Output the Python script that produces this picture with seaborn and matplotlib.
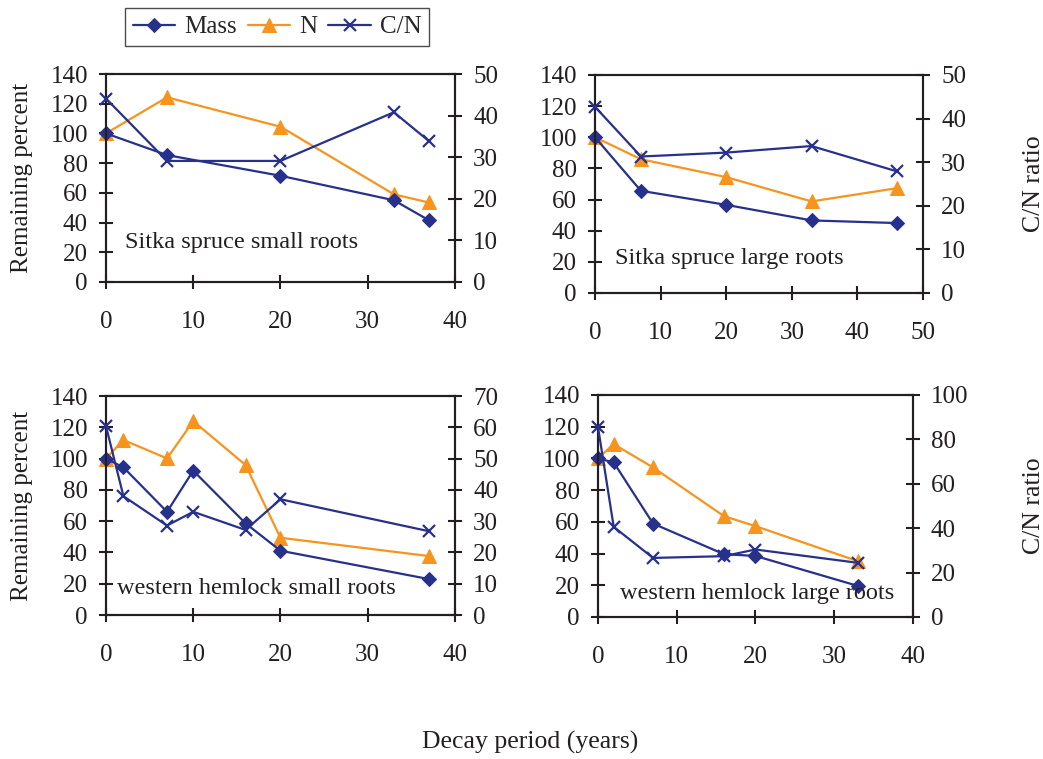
import numpy as np
import matplotlib
matplotlib.use('Agg')
import matplotlib.pyplot as plt
import seaborn as sns

# ---------- data ----------
# Sitka spruce small roots
ss_small_years = [0, 7, 20, 33, 37]
ss_small_mass = [100, 85.4, 71.5, 55, 41.6]
ss_small_n = [100, 124.3, 104.5, 59, 53.5]
ss_small_cn = [44.1, 29.1, 29.1, 40.8, 33.9]

# Sitka spruce large roots
ss_large_years = [0, 7, 20, 33, 46]
ss_large_mass = [100, 65.6, 56.6, 46.6, 44.9]
ss_large_n = [100, 85.9, 74.4, 58.8, 67.3]
ss_large_cn = [42.7, 31.3, 32.2, 33.7, 27.9]

# western hemlock small roots
wh_small_years = [0, 2, 7, 10, 16, 20, 37]
wh_small_mass = [100, 94.4, 66, 92.3, 58.6, 41.1, 23.0]
wh_small_n = [100, 111.9, 100.1, 124, 95.9, 49.4, 37.7]
wh_small_cn = [60.4, 38.0, 28.6, 33.0, 27.2, 37.0, 26.8]

# western hemlock large roots
wh_large_years = [0, 2, 7, 16, 20, 33]
wh_large_mass = [100, 97.5, 58.9, 39.6, 38.5, 19.6]
wh_large_n = [100, 109, 94.3, 63.6, 57.3, 35.2]
wh_large_cn = [85.7, 40.6, 26.6, 27.4, 30.4, 24.4]

panel_titles = ['Sitka spruce small roots', 'Sitka spruce large roots',
                'western hemlock small roots', 'western hemlock large roots']
series_labels = ['Mass', 'N', 'C/N']

# ---------- style ----------
sns.set_style('ticks')
plt.rcParams['font.family'] = ['Liberation Serif', 'DejaVu Serif']
plt.rcParams['font.size'] = 18

navy = '#27318B'
orange = '#F7941E'
ink = '#231F20'

fig = plt.figure(figsize=(10.43, 7.59), dpi=100)

panels = [
    dict(pos=[0.1016, 0.6285, 0.3346, 0.2740], x=ss_small_years, mass=ss_small_mass,
         n=ss_small_n, cn=ss_small_cn, xmax=40, cnmax=50, cnstep=10, txt=(0.054, 0.19)),
    dict(pos=[0.5705, 0.6140, 0.3145, 0.2872], x=ss_large_years, mass=ss_large_mass,
         n=ss_large_n, cn=ss_large_cn, xmax=50, cnmax=50, cnstep=10, txt=(0.061, 0.16)),
    dict(pos=[0.1016, 0.1897, 0.3346, 0.2885], x=wh_small_years, mass=wh_small_mass,
         n=wh_small_n, cn=wh_small_cn, xmax=40, cnmax=70, cnstep=10, txt=(0.032, 0.12)),
    dict(pos=[0.5733, 0.1871, 0.3020, 0.2925], x=wh_large_years, mass=wh_large_mass,
         n=wh_large_n, cn=wh_large_cn, xmax=40, cnmax=100, cnstep=20, txt=(0.07, 0.108)),
]

handles = []
for i, p in enumerate(panels):
    ax = fig.add_axes(p['pos'])
    ax2 = ax.twinx()

    sns.lineplot(x=p['x'], y=p['mass'], ax=ax, color=navy, marker='D', markersize=7,
                 markeredgecolor=navy, linewidth=1.6, clip_on=False, zorder=3)
    sns.lineplot(x=p['x'], y=p['n'], ax=ax, color=orange, marker='^', markersize=10,
                 markeredgecolor=orange, linewidth=1.6, clip_on=False, zorder=2)
    sns.lineplot(x=p['x'], y=p['cn'], ax=ax2, color=navy, marker='x', markersize=9,
                 markeredgecolor=navy, markeredgewidth=1.6, linewidth=1.6,
                 clip_on=False, zorder=3)

    ax.set_xlim(0, p['xmax'])
    ax.set_ylim(0, 140)
    ax.set_yticks(np.arange(0, 141, 20))
    ax.set_xticks(np.arange(0, p['xmax'] + 1, 10))
    ax2.set_ylim(0, p['cnmax'])
    ax2.set_yticks(np.arange(0, p['cnmax'] + 1, p['cnstep']))

    for a in (ax, ax2):
        for s in a.spines.values():
            s.set_visible(True)
            s.set_linewidth(1.5)
            s.set_color(ink)
    ax.tick_params(axis='both', direction='inout', length=10, width=1.5, color=ink,
                   labelsize=18, labelcolor=ink)
    ax.tick_params(axis='x', pad=16)
    ax.tick_params(axis='y', pad=8)
    ax2.tick_params(axis='y', direction='inout', length=10, width=1.5, color=ink,
                    labelsize=18, labelcolor=ink, pad=8)

    ax.text(p['txt'][0], p['txt'][1], panel_titles[i], transform=ax.transAxes,
            fontsize=17.5, color=ink, ha='left', va='center')

    w_px = p['pos'][2] * 1043
    if i % 2 == 0:
        ax.set_ylabel('Remaining percent', fontsize=18, color=ink, va='center')
        ax.yaxis.set_label_coords((22 - p['pos'][0] * 1043) / w_px, 0.5)
    else:
        ax.set_ylabel('')
    if i % 2 == 1:
        ax2.set_ylabel('C/N ratio', fontsize=18.5, color=ink, va='center', rotation=90)
        ax2.yaxis.set_label_coords((1034 - p['pos'][0] * 1043) / w_px, 0.5)
    else:
        ax2.set_ylabel('')

    if i == 0:
        handles = ax.get_lines()[:2] + ax2.get_lines()[:1]

fig.legend(handles, series_labels, loc='center', bbox_to_anchor=(277 / 1043, 1 - 27 / 759),
           ncol=3, frameon=True, fancybox=False, edgecolor=ink, fontsize=18,
           handlelength=1.7, columnspacing=0.45, handletextpad=0.35, borderpad=0.3)
fig.legends[0].get_frame().set_linewidth(1.0)

fig.text(530 / 1043, 1 - 742 / 759, 'Decay period (years)', ha='center', va='center',
         fontsize=18.5, color=ink)

fig.savefig('out.png', dpi=100)
